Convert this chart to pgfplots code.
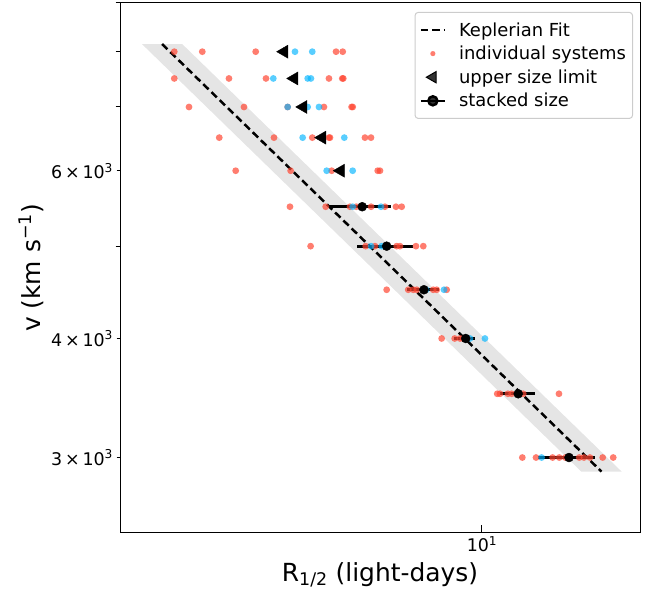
\documentclass[border=0pt]{standalone}
\usepackage{fontspec}
\setmainfont{DejaVu Sans}
\usepackage{pgfplots}
\usepackage{pgfplotstable}
\pgfplotsset{compat=1.18}
\definecolor{redpt}{RGB}{255,70,50}
\definecolor{bluept}{RGB}{0,180,255}
\definecolor{legframe}{RGB}{204,204,204}

\pgfplotstableread{
x y
2.367 8000
2.699 8000
3.466 8000
5.049 8000
5.209 8000
2.367 7500
3.058 7500
3.637 7500
4.884 7500
5.199 7500
5.223 7500
2.536 7000
3.281 7000
4.025 7000
4.771 7000
5.43 7000
5.46 7000
2.922 6500
3.776 6500
4.517 6500
4.884 6500
4.908 6500
5.781 6500
5.947 6500
3.156 6000
4.082 6000
4.946 6000
6.137 6000
6.203 6000
4.069 5500
4.810 5500
5.389 5500
5.55 5500
5.95 5500
6.348 5500
6.685 5500
6.866 5500
4.482 5000
5.80 5000
6.059 5000
6.40 5000
6.707 5000
6.811 5000
7.34 5000
7.597 5000
6.40 4500
7.08 4500
7.25 4500
7.37 4500
7.96 4500
8.09 4500
8.476 4500
8.279 4000
8.80 4000
9.02 4000
9.15 4000
9.35 4000
10.74 3500
10.88 3500
11.29 3500
11.49 3500
12.13 3500
14.34 3500
12.08 3000
12.88 3000
13.92 3000
14.36 3000
14.77 3000
15.77 3000
16.12 3000
16.58 3000
17.60 3000
18.49 3000
}\reddata

\pgfplotstableread{
x y
4.166 8000
4.517 8000
3.764 7500
4.421 7500
4.489 7500
4.025 7000
4.421 7000
4.661 7000
4.318 6500
5.248 6500
4.832 6000
5.458 6000
5.458 5500
6.232 5500
5.95 5000
6.252 5000
7.7 4500
8.37 4500
9.454 4000
10.14 4000
13.22 3000
}\bluedata

\pgfplotstableread{
x y
3.96 8000
4.15 7500
4.33 7000
4.73 6500
5.16 6000
}\limits

\pgfplotstableread{
x y exm exp
5.708 5500 0.816 0.813
6.40 5000 0.823 0.828
7.62 4500 0.592 0.568
9.266 4000 0.481 0.412
11.85 3500 0.97 0.97
15.03 3000 2.02 1.95
}\stacked

\begin{document}
\begin{tikzpicture}
\begin{axis}[name=ax, scale only axis, width=520bp, height=530bp,
  xmode=log, ymode=log,
  xmin=1.836, xmax=20.96, ymin=2500, ymax=9000,
  axis line style={line width=1bp},
  every tick/.style={black, line width=1bp},
  tick align=outside, xtick pos=bottom, ytick pos=left,
  major tick length=3.5bp, minor tick length=4.5bp,
  xtick=\empty,
  minor xtick={2,3,4,5,6,7,8,9,20},
  extra x ticks={10}, extra x tick labels={10\textsuperscript{1}},
  extra x tick style={tick align=inside, major tick length=8bp},
  ytick={3000,4000,6000},
  yticklabels={{3\,×\,10\textsuperscript{3}},{4\,×\,10\textsuperscript{3}},{6\,×\,10\textsuperscript{3}}},
  minor ytick={5000,7000,8000,9000},
  ticklabel style={font=\fontsize{17.5}{20}\selectfont},
  xlabel={R\textsubscript{1/2} (light-days)},
  ylabel={v (km s\textsuperscript{−1})},
  label style={font=\fontsize{25}{30}\selectfont},
  legend style={at={(rel axis cs:1,1)}, anchor=north east, xshift=-7bp, yshift=-9bp,
    draw=legframe, rounded corners=3bp, line width=1bp,
    font=\fontsize{18}{21}\selectfont, inner xsep=4.5bp, inner ysep=8bp,
    row sep=4.5bp, fill=white, fill opacity=0.8, text opacity=1, draw opacity=1,
    cells={anchor=west},
    /tikz/every odd column/.append style={column sep=11bp}},
  legend image code/.code={\draw[mark repeat=2,mark phase=2,#1] plot coordinates {(0bp,0bp) (12bp,0bp) (24bp,0bp)};},
]
\addlegendimage{black, line width=2.5bp, dash pattern=on 7.5bp off 4bp}
\addlegendentry{Keplerian Fit}
\addlegendimage{only marks, mark=*, mark size=2.6bp, mark options={draw opacity=0, fill=redpt, fill opacity=0.7}}
\addlegendentry{individual systems}
\addlegendimage{only marks, mark=triangle*, mark size=6.5bp, mark options={black, fill=black, rotate=90}}
\addlegendentry{upper size limit}
\addlegendimage{black, line width=2.5bp, mark=*, mark size=4.5bp, mark options={solid, fill=black}}
\addlegendentry{stacked size}

\addplot[fill=black!10, draw=none, forget plot] coordinates {(2.034,8150) (2.456,8150) (19.23,2900) (15.92,2900)} -- cycle;
\addplot[black, line width=2.5bp, dash pattern=on 7.5bp off 4bp, forget plot] coordinates {(2.235,8150) (17.5,2900)};
\addplot[only marks, mark=none, forget plot,
  error bars/.cd, x dir=both, x explicit, error mark=none,
  error bar style={black, solid, line width=3bp}]
  table[x=x, y=y, x error minus=exm, x error plus=exp] {\stacked};
\addplot[only marks, mark=*, mark size=3.4bp, mark options={draw opacity=0, fill=redpt, fill opacity=0.7}, forget plot] table[x=x, y=y] {\reddata};
\addplot[only marks, mark=*, mark size=3.4bp, mark options={draw opacity=0, fill=bluept, fill opacity=0.65}, forget plot] table[x=x, y=y] {\bluedata};
\addplot[only marks, mark=triangle*, mark size=7.5bp, mark options={black, fill=black, rotate=90}, forget plot] table[x=x, y=y] {\limits};
\addplot[only marks, black, mark=*, mark size=4.5bp, mark options={black, fill=black}, forget plot] table[x=x, y=y] {\stacked};
\end{axis}
\pgfresetboundingbox
\path ([shift={(-120bp,-60bp)}]ax.south west) rectangle ([shift={(7bp,3bp)}]ax.north east);
\end{tikzpicture}
\end{document}
